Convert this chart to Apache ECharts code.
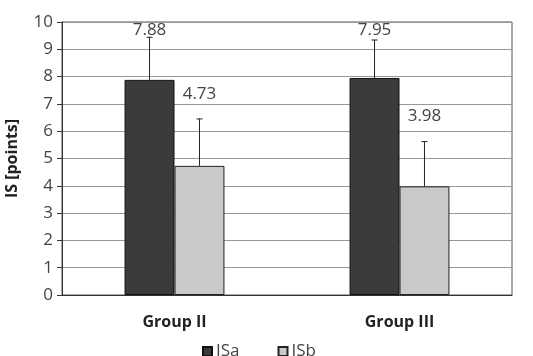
<!DOCTYPE html>
<html><head><meta charset="utf-8">
<script src="https://cdn.jsdelivr.net/npm/echarts@6/dist/echarts.min.js"></script>
<style>html,body{margin:0;padding:0;background:#fff}#c{width:533px;height:356px}</style>
</head><body><div id="c"></div>
<script>
const categories = ['Group II', 'Group III'];
const seriesNames = ['ISa', 'ISb'];
const valuesISa = [7.88, 7.95];
const valuesISb = [4.73, 3.98];
const sdISa = [1.56, 1.39];
const sdISb = [1.72, 1.64];
const yTicks = [0,1,2,3,4,5,6,7,8,9,10];

const colors = ['#3b3b3b', '#c9c9c9'];
const chart = echarts.init(document.getElementById('c'));
const FONT = "'Open Sans', 'Noto Sans', sans-serif";

function errSeries(idx, vals, sds) {
  return {
    type: 'custom',
    name: seriesNames[idx] + ' err',
    z: 5,
    silent: true,
    data: vals.map((v, i) => [i, v, sds[i]]),
    renderItem: function (params, api) {
      const cat = api.value(0), v = api.value(1), sd = api.value(2);
      const band = api.size([1, 0])[0];
      const bw = band * (1 - 0.556) / 2;
      const base = api.coord([cat, v]);
      const top = api.coord([cat, v + sd]);
      const x = base[0] + (idx === 0 ? -bw / 2 : bw / 2);
      const labelY = Math.max(top[1] - 25, params.coordSys.y + 8);
      return {
        type: 'group',
        children: [
          {type: 'line', shape: {x1: x, y1: base[1], x2: x, y2: top[1]}, style: {stroke: '#222', lineWidth: 1}},
          {type: 'line', shape: {x1: x - 3, y1: top[1], x2: x + 3, y2: top[1]}, style: {stroke: '#222', lineWidth: 1}},
          {type: 'text', x: x, y: labelY, style: {text: v.toFixed(2), fill: '#444', font: '17px ' + FONT, align: 'center', verticalAlign: 'middle'}}
        ]
      };
    }
  };
}

chart.setOption({
  animation: false,
  backgroundColor: '#fff',
  grid: {left: 62, right: 21, top: 22, bottom: 61, show: true, borderColor: '#555', borderWidth: 1,
    containLabel: false, outerBoundsMode: 'none'},
  legend: {
    data: seriesNames,
    left: 197, top: 338,
    icon: 'rect', itemWidth: 9, itemHeight: 9, itemGap: 38,
    textStyle: {fontFamily: FONT, fontSize: 17, color: '#444', padding: [0, 0, 0, -1]}
  },
  xAxis: {
    type: 'category', data: categories,
    axisLine: {lineStyle: {color: '#333'}},
    axisTick: {show: false},
    axisLabel: {fontFamily: FONT, fontSize: 16, fontWeight: 'bold', color: '#222', margin: 19}
  },
  yAxis: {
    type: 'value', min: 0, max: 10, interval: 1,
    name: 'IS [points]', nameLocation: 'middle', nameGap: 42, nameRotate: 90,
    nameTextStyle: {fontFamily: FONT, fontSize: 16, fontWeight: 'bold', color: '#222'},
    axisLine: {show: true, lineStyle: {color: '#333'}},
    axisTick: {show: true, length: 5, lineStyle: {color: '#333'}},
    axisLabel: {fontFamily: FONT, fontSize: 17, color: '#444', margin: 9,
      formatter: v => yTicks.includes(v) ? String(v) : ''},
    splitLine: {lineStyle: {color: '#999', width: 1}}
  },
  series: [
    {type: 'bar', name: 'ISa', data: valuesISa, barGap: '0%', barCategoryGap: '55.6%',
      itemStyle: {color: colors[0], borderColor: '#111', borderWidth: 1}},
    {type: 'bar', name: 'ISb', data: valuesISb, barGap: '0%', barCategoryGap: '55.6%',
      itemStyle: {color: colors[1], borderColor: '#222', borderWidth: 1}},
    errSeries(0, valuesISa, sdISa),
    errSeries(1, valuesISb, sdISb)
  ]
});
</script></body></html>
